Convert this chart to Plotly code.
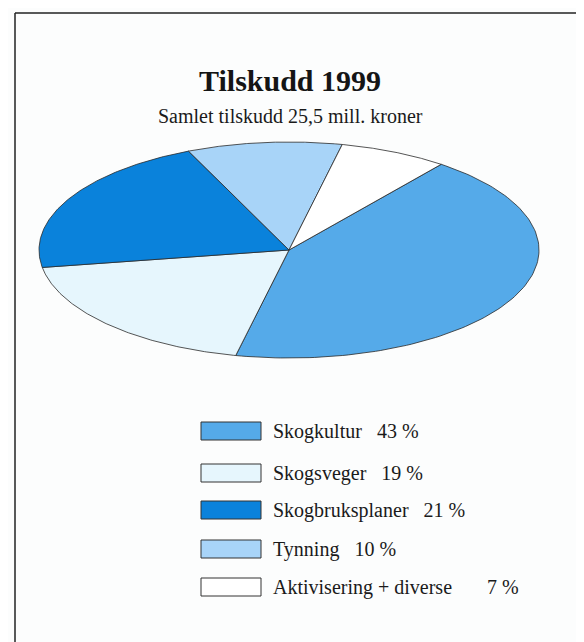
import numpy as np
import plotly.graph_objects as go

# data
categories = ["Skogkultur", "Skogsveger", "Skogbruksplaner", "Tynning", "Aktivisering + diverse"]
shares = [43, 19, 21, 10, 7]
colors = ["#55aae9", "#e6f6fd", "#0a82db", "#a8d4f8", "#ffffff"]
label_gaps = [3, 3, 3, 3, 7]  # spaces between name and percent in legend

W, H = 584, 642
OFF = 8                               # page body margin, axes are shifted to cancel it
cx, cy, rx, ry = 289, 250, 250, 108   # ellipse in page pixel units
start_deg = 52.5                      # first slice starts here, goes clockwise

fig = go.Figure()

# elliptical pie: wedges computed from the shares
t0 = np.radians(start_deg)
total = sum(shares)
for name, val, col in zip(categories, shares, colors):
    t1 = t0 - 2 * np.pi * val / total
    t = np.linspace(t0, t1, 120)
    xs = np.concatenate([[cx], cx + rx * np.cos(t), [cx]])
    ys = np.concatenate([[cy], cy - ry * np.sin(t), [cy]])
    fig.add_trace(go.Scatter(x=xs, y=ys, fill="toself", fillcolor=col, mode="lines",
                             line=dict(color="#2a2a2a", width=0.8), name=name,
                             hoverinfo="name", showlegend=False))
    t0 = t1

# legend drawn by hand, boxes + text
font = "Liberation Serif, Times New Roman, serif"
row_y = [431, 473, 510, 549, 587]
for name, val, col, gap, yy in zip(categories, shares, colors, label_gaps, row_y):
    fig.add_shape(type="rect", xref="x", yref="y", x0=201, x1=261, y0=yy - 9, y1=yy + 9,
                  fillcolor=col, line=dict(color="#333333", width=1))
    fig.add_annotation(x=271, y=yy, xref="x", yref="y", xanchor="left", yanchor="middle",
                       text=name + "\u00a0" * gap + f"{val} %", showarrow=False,
                       font=dict(family=font, size=20, color="#1a1a1a"))

# titles
fig.add_annotation(x=290, y=80, xref="x", yref="y", text="<b>Tilskudd 1999</b>",
                   showarrow=False, font=dict(family=font, size=30, color="#151515"))
fig.add_annotation(x=290, y=116, xref="x", yref="y", text="Samlet tilskudd 25,5 mill. kroner",
                   showarrow=False, font=dict(family=font, size=20, color="#1a1a1a"))

# frame lines
fig.add_shape(type="line", xref="x", yref="y", x0=15, x1=W + OFF, y0=13, y1=13,
              line=dict(color="#222222", width=1.5))
fig.add_shape(type="line", xref="x", yref="y", x0=15, x1=15, y0=13, y1=H + OFF,
              line=dict(color="#222222", width=1.5))

fig.update_xaxes(range=[OFF, W + OFF], visible=False, fixedrange=True)
fig.update_yaxes(range=[H + OFF, OFF], visible=False, fixedrange=True)
fig.update_layout(width=W, height=H, margin=dict(l=0, r=0, t=0, b=0),
                  paper_bgcolor="#fcfdfd", plot_bgcolor="#fcfdfd", showlegend=False)

fig.write_html("out.html")
